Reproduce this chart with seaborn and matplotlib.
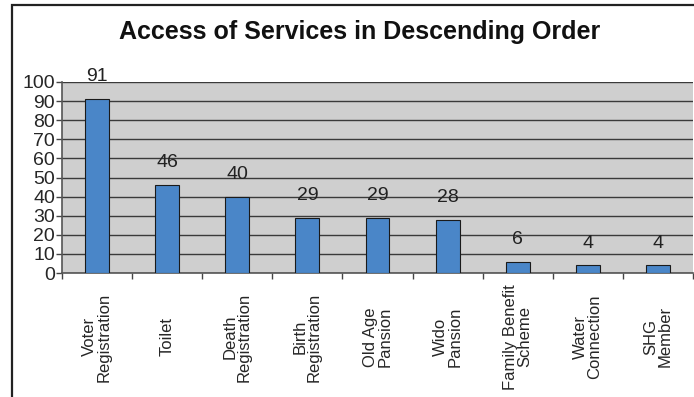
import matplotlib
matplotlib.use("Agg")
import matplotlib.pyplot as plt
import seaborn as sns
import pandas as pd
from matplotlib.patches import Rectangle
from matplotlib.ticker import FixedLocator

categories = ["Voter\nRegistration", "Toilet", "Death\nRegistration", "Birth\nRegistration",
              "Old Age\nPansion", "Wido\nPansion", "Family Benefit\nScheme",
              "Water\nConnection", "SHG\nMember"]
values = [91, 46, 40, 29, 29, 28, 6, 4, 4]
yticks = list(range(0, 101, 10))
title = "Access of Services in Descending Order"

sns.set_theme(style="white")
plt.rcParams['font.family'] = ['Liberation Sans', 'DejaVu Sans']

df = pd.DataFrame({"cat": categories, "val": values})

fig = plt.figure(figsize=(6.94, 3.97), dpi=100)
ax = fig.add_axes([62/694, 1 - 273/397, (693 - 62)/694, (273 - 82)/397])
ax.set_facecolor("#CFCFCF")

sns.barplot(data=df, x="cat", y="val", color="#4A86C8", width=0.34,
            edgecolor="#1a1a1a", linewidth=0.8, saturation=1, ax=ax, zorder=3)

ax.set_ylim(0, 100)
ax.set_xlim(-0.5, len(categories) - 0.5)
ax.set_yticks(yticks)
ax.set_yticklabels([str(t) for t in yticks], fontsize=14)
ax.yaxis.grid(True, color="#3a3a3a", linewidth=1.0, zorder=1)
ax.set_axisbelow(True)

ax.set_xlabel("")
ax.set_ylabel("")
ax.set_xticks(range(len(categories)))
ax.set_xticklabels(categories, rotation=90, fontsize=12, va="center", ha="center",
                   multialignment="center", linespacing=0.95)
ax.tick_params(axis="x", which="major", length=0, pad=46)
ax.xaxis.set_minor_locator(FixedLocator([i + 0.5 for i in range(-1, len(categories))]))
ax.tick_params(axis="x", which="minor", length=4, width=1, color="#444444", bottom=True)
ax.tick_params(axis="y", length=4, width=1, color="#444444", pad=1, left=True)

for s in ["top", "right"]:
    ax.spines[s].set_visible(False)
for s in ["left", "bottom"]:
    ax.spines[s].set_color("#555555")
    ax.spines[s].set_linewidth(1.2)

for i, v in enumerate(values):
    ax.annotate(str(v), xy=(i, v), xytext=(0, 16), textcoords="offset points",
                ha="center", va="center", fontsize=14, color="#222222")

fig.text(0.5 * (117 + 602) / 694, 1 - 32 / 397, title, ha="center", va="center",
         fontsize=18, fontweight="bold", color="#111111")

frame = Rectangle((12/694, -0.1), 1.0, 1.1 - 5/397, transform=fig.transFigure,
                  fill=False, edgecolor="#222222", linewidth=1.6, clip_on=False)
fig.patches.append(frame)

fig.savefig("out.png", dpi=100)
